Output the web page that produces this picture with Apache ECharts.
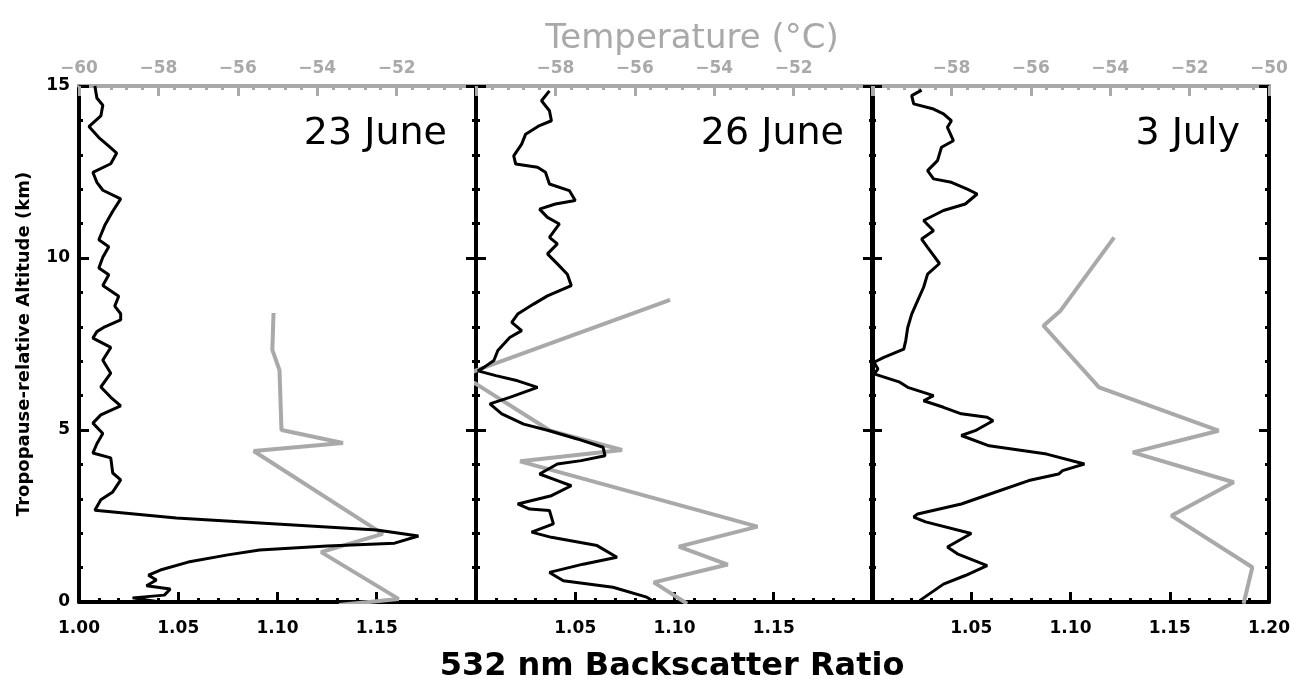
<!DOCTYPE html>
<html>
<head>
<meta charset="utf-8">
<script src="https://cdn.jsdelivr.net/npm/echarts@6/dist/echarts.min.js"></script>
<style>
  html, body { margin: 0; padding: 0; background: #fff; }
  #main { width: 1293px; height: 681px; }
</style>
</head>
<body>
<div id="main"></div>
<script>
var chartDom = document.getElementById('main');
var myChart = echarts.init(chartDom);
var option;

// panel names
var panelDates = ['23 June', '26 June', '3 July'];

// backscatter ratio profiles: [ratio, altitude km]
var bsr23June = [
  [1.008, 15.0], [1.009, 14.65], [1.012, 14.44], [1.011, 14.13], [1.005, 13.82],
  [1.010, 13.5], [1.014, 13.3], [1.019, 13.05], [1.016, 12.74], [1.007, 12.49],
  [1.009, 12.2], [1.012, 11.97], [1.021, 11.72], [1.017, 11.36], [1.013, 10.95],
  [1.010, 10.53], [1.015, 10.33], [1.012, 10.02], [1.010, 9.71], [1.015, 9.51],
  [1.012, 9.2], [1.020, 8.89], [1.018, 8.6], [1.021, 8.38], [1.021, 8.2],
  [1.013, 8.0], [1.009, 7.86], [1.007, 7.67], [1.016, 7.4], [1.012, 7.03],
  [1.016, 6.65], [1.011, 6.25], [1.016, 5.95], [1.021, 5.7], [1.011, 5.44],
  [1.007, 5.2], [1.012, 4.9], [1.009, 4.6], [1.007, 4.33], [1.016, 4.19],
  [1.017, 3.75], [1.021, 3.55], [1.017, 3.2], [1.011, 2.97], [1.008, 2.67],
  [1.049, 2.44], [1.108, 2.24], [1.150, 2.09], [1.171, 1.92], [1.159, 1.71],
  [1.125, 1.63], [1.091, 1.51], [1.075, 1.37], [1.055, 1.16], [1.041, 0.93],
  [1.035, 0.78], [1.039, 0.64], [1.034, 0.47], [1.046, 0.38], [1.043, 0.2],
  [1.027, 0.12], [1.041, 0.0]
];
var bsr26June = [
  [1.037, 14.86], [1.033, 14.57], [1.037, 14.28], [1.038, 13.99], [1.032, 13.85],
  [1.025, 13.6], [1.023, 13.31], [1.019, 12.97], [1.020, 12.73], [1.031, 12.64],
  [1.035, 12.49], [1.037, 12.15], [1.047, 11.96], [1.050, 11.67], [1.040, 11.57],
  [1.032, 11.42], [1.036, 11.18], [1.042, 10.99], [1.037, 10.6], [1.041, 10.41],
  [1.036, 10.12], [1.041, 9.83], [1.046, 9.53], [1.048, 9.2], [1.036, 8.9],
  [1.029, 8.66], [1.021, 8.37], [1.018, 8.13], [1.023, 7.89], [1.017, 7.69],
  [1.011, 7.31], [1.009, 7.02], [1.004, 6.82], [1.001, 6.72], [1.010, 6.58],
  [1.021, 6.43], [1.031, 6.24], [1.017, 5.95], [1.007, 5.76], [1.013, 5.47],
  [1.024, 5.17], [1.037, 4.98], [1.051, 4.74], [1.064, 4.5], [1.065, 4.25],
  [1.053, 4.11], [1.041, 4.01], [1.032, 3.72], [1.041, 3.53], [1.048, 3.38],
  [1.038, 3.09], [1.021, 2.85], [1.027, 2.7], [1.037, 2.66], [1.039, 2.27],
  [1.028, 2.03], [1.038, 1.88], [1.061, 1.64], [1.071, 1.3], [1.054, 1.1],
  [1.037, 0.86], [1.044, 0.62], [1.069, 0.43], [1.086, 0.14], [1.090, 0.0]
];
var bsr3July = [
  [1.025, 14.88], [1.020, 14.72], [1.021, 14.48], [1.031, 14.33], [1.036, 14.19],
  [1.040, 13.99], [1.038, 13.8], [1.041, 13.41], [1.035, 13.22], [1.033, 12.83],
  [1.028, 12.54], [1.031, 12.3], [1.040, 12.2], [1.048, 12.0], [1.053, 11.86],
  [1.047, 11.57], [1.036, 11.38], [1.026, 11.09], [1.031, 10.79], [1.025, 10.55],
  [1.028, 10.31], [1.034, 9.84], [1.028, 9.53], [1.026, 9.15], [1.023, 8.76],
  [1.020, 8.37], [1.018, 7.98], [1.017, 7.6], [1.016, 7.35], [1.006, 7.11],
  [1.001, 6.97], [1.003, 6.77], [1.001, 6.63], [1.014, 6.39], [1.018, 6.24],
  [1.031, 6.0], [1.026, 5.85], [1.036, 5.66], [1.045, 5.47], [1.058, 5.37],
  [1.061, 5.27], [1.052, 4.98], [1.045, 4.84], [1.059, 4.54], [1.088, 4.3],
  [1.107, 4.01], [1.096, 3.82], [1.094, 3.72], [1.079, 3.53], [1.062, 3.19],
  [1.045, 2.85], [1.023, 2.56], [1.021, 2.47], [1.027, 2.33], [1.050, 1.99],
  [1.038, 1.6], [1.043, 1.4], [1.058, 1.06], [1.047, 0.77], [1.036, 0.52],
  [1.024, 0.04]
];

// temperature profiles: [deg C, altitude km]
var temp23June = [
  [-55.1, 8.4], [-55.13, 7.33], [-54.95, 6.74], [-54.9, 5.0], [-53.35, 4.62],
  [-55.6, 4.39], [-52.35, 1.98], [-53.9, 1.45], [-51.95, 0.09], [-53.45, -0.09]
];
var temp26June = [
  [-55.11, 8.78], [-59.98, 6.74], [-60.4, 6.55], [-60.0, 6.34], [-58.13, 4.98],
  [-56.32, 4.42], [-58.89, 4.09], [-53.75, 2.46], [-52.91, 2.19], [-54.89, 1.61],
  [-53.66, 1.09], [-55.52, 0.57], [-54.68, -0.05]
];
var temp3July = [
  [-53.9, 10.6], [-55.25, 8.47], [-55.68, 8.03], [-54.28, 6.24], [-51.27, 4.98],
  [-53.43, 4.35], [-50.89, 3.48], [-52.46, 2.51], [-50.42, 1.01], [-50.64, -0.05]
];

var bsrData = [bsr23June, bsr26June, bsr3July];
var tempData = [temp23June, temp26June, temp3July];

var gray = '#a9a9a9';
var fontFam = 'DejaVu Sans';
var panelLeft = [79, 476, 872];
var panelWidth = 397;

option = {
  animation: false,
  title: [
    {
      text: 'Temperature (°C)',
      left: 687,
      textAlign: 'center',
      top: 17,
      textStyle: { color: gray, fontSize: 34, fontWeight: 'normal', fontFamily: fontFam }
    },
    {
      text: '532 nm Backscatter Ratio',
      left: 667,
      textAlign: 'center',
      top: 646,
      textStyle: { color: '#000', fontSize: 32, fontWeight: 'bold', fontFamily: fontFam }
    }
  ],
  grid: [],
  xAxis: [],
  yAxis: [],
  series: []
};

for (var i = 0; i < 3; i++) {
  option.grid.push({
    left: panelLeft[i],
    width: panelWidth,
    top: 86,
    height: 516
  });
  option.title.push({
    text: panelDates[i],
    right: 1293 - (panelLeft[i] + panelWidth - 24),
    top: 110,
    textStyle: { color: '#000', fontSize: 38, fontWeight: 'normal', fontFamily: fontFam }
  });
  // bottom: backscatter ratio
  option.xAxis.push({
    type: 'value',
    gridIndex: i,
    position: 'bottom',
    min: 1.0,
    max: 1.2,
    interval: 0.05,
    splitLine: { show: false },
    axisLine: { onZero: false, lineStyle: { color: '#000', width: 4 } },
    axisTick: { inside: true, length: 10, lineStyle: { color: '#000', width: 3 } },
    minorTick: { show: true, splitNumber: 5, length: 4, lineStyle: { color: '#000', width: 3 } },
    axisLabel: {
      margin: 18,
      color: '#000',
      fontSize: 17,
      fontWeight: 'bold',
      fontFamily: fontFam,
      showMinLabel: i === 0,
      showMaxLabel: i === 2,
      formatter: function (v) { return v.toFixed(2); }
    }
  });
  // top: temperature
  option.xAxis.push({
    type: 'value',
    gridIndex: i,
    position: 'top',
    min: -60,
    max: -50,
    interval: 2,
    splitLine: { show: false },
    axisLine: { onZero: false, lineStyle: { color: gray, width: 4 } },
    axisTick: { inside: true, length: 10, lineStyle: { color: gray, width: 3 } },
    minorTick: { show: true, splitNumber: 5, length: 4, lineStyle: { color: gray, width: 3 } },
    axisLabel: {
      margin: 9,
      color: gray,
      fontSize: 17,
      fontWeight: 'bold',
      fontFamily: fontFam,
      showMinLabel: i === 0,
      showMaxLabel: i === 2,
      formatter: function (v) { return '\u2212' + Math.abs(v); }
    }
  });
  var yBase = {
    type: 'value',
    gridIndex: i,
    min: 0,
    max: 15,
    interval: 5,
    splitLine: { show: false },
    axisLine: { show: true, onZero: false, lineStyle: { color: '#000', width: 4 } },
    axisTick: { show: true, inside: true, length: 10, lineStyle: { color: '#000', width: 3 } },
    minorTick: { show: true, splitNumber: 5, length: 4, lineStyle: { color: '#000', width: 3 } }
  };
  option.yAxis.push(Object.assign({}, yBase, {
    position: 'left',
    name: i === 0 ? 'Tropopause-relative Altitude (km)' : '',
    nameLocation: 'middle',
    nameGap: 46,
    nameTextStyle: { color: '#000', fontSize: 18, fontWeight: 'bold', fontFamily: fontFam },
    axisLabel: {
      show: i === 0,
      margin: 9,
      color: '#000',
      fontSize: 17,
      fontWeight: 'bold',
      fontFamily: fontFam
    }
  }));
  option.yAxis.push(Object.assign({}, yBase, {
    position: 'right',
    axisLabel: { show: false }
  }));

  option.series.push({
    type: 'line',
    name: 'backscatter ' + panelDates[i],
    xAxisIndex: i * 2,
    yAxisIndex: i * 2,
    data: bsrData[i],
    showSymbol: false,
    clip: true,
    lineStyle: { color: '#000', width: 3 },
    z: 3
  });
  option.series.push({
    type: 'line',
    name: 'temperature ' + panelDates[i],
    xAxisIndex: i * 2 + 1,
    yAxisIndex: i * 2,
    data: tempData[i],
    showSymbol: false,
    clip: true,
    lineStyle: { color: gray, width: 4 },
    z: 2
  });
}

option && myChart.setOption(option);
</script>
</body>
</html>
